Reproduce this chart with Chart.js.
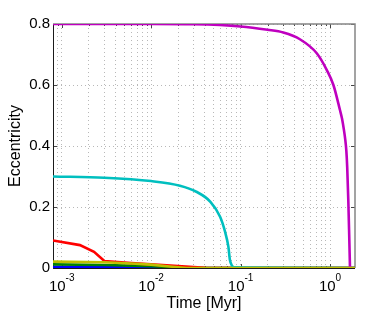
<!DOCTYPE html>
<html>
<head>
<meta charset="utf-8">
<script src="https://cdn.jsdelivr.net/npm/chart.js@4.4.0/dist/chart.umd.min.js"></script>
<style>
  html, body { margin: 0; padding: 0; background: #fff; }
  canvas { display: block; }
</style>
</head>
<body>
<canvas id="chartEcc" width="392" height="318"></canvas>
<script>
// ------------------------------------------------
// values: time [Myr] / eccentricity
// ------------------------------------------------
const blueT = [0.0008, 0.003, 0.01, 0.02, 1.9];
const blueE = [0.004, 0.003, 0.001, 0, 0];

const greenT = [0.0008, 0.003, 0.01, 0.02, 0.03, 1.9];
const greenE = [0.012, 0.010, 0.006, 0.002, 0, 0];

const redT = [0.0008, 0.0016, 0.0023, 0.003, 0.006, 0.01, 0.02, 0.04, 1.9];
const redE = [0.090, 0.075, 0.053, 0.023, 0.016, 0.012, 0.006, 0.001, 0];

const cyanT = [0.0008, 0.003, 0.01, 0.021, 0.032, 0.046, 0.059, 0.067, 0.073, 0.076, 0.080, 0.087, 1.9];
const cyanE = [0.300, 0.296, 0.285, 0.270, 0.250, 0.217, 0.168, 0.119, 0.070, 0.026, 0.008, 0.002, 0];

const magentaT = [0.0008, 0.01, 0.03, 0.1, 0.2, 0.3, 0.46, 0.71, 0.92, 1.09, 1.29, 1.36, 1.43, 1.48, 1.52, 1.555, 1.6, 1.636, 1.67];
const magentaE = [0.800, 0.800, 0.799, 0.792, 0.781, 0.772, 0.750, 0.704, 0.649, 0.600, 0.518, 0.490, 0.452, 0.420, 0.385, 0.330, 0.220, 0.110, 0];

const yellowT = [0.0008, 0.003, 0.006, 0.01, 0.016, 0.025, 1.9];
const yellowE = [0.021, 0.019, 0.015, 0.011, 0.005, 0, 0];

// axes
const xMin = 0.0008, xMax = 1.9;
const xTickValues = [0.001, 0.01, 0.1, 1];
const xTickExps = ["-3", "-2", "-1", "0"];
const yTickValues = [0, 0.2, 0.4, 0.6, 0.8];

const FONT = '"Liberation Sans", Arial, Helvetica, sans-serif';

// log grid positions (1..9 x each decade inside the range)
const xGrid = [];
[0.0001, 0.001, 0.01, 0.1, 1].forEach(d => {
  for (let k = 1; k < 10; k++) {
    const v = +(k * d).toPrecision(3);
    if (v >= xMin && v <= xMax) xGrid.push(v);
  }
});

const pts = (ts, es) => ts.map((t, i) => ({ x: t, y: es[i] }));

function series(label, ts, es, color, order, smooth) {
  return {
    label,
    data: pts(ts, es),
    borderColor: color,
    backgroundColor: color,
    borderWidth: 2.6,
    pointRadius: 0,
    fill: false,
    order,
    cubicInterpolationMode: smooth ? "monotone" : "default",
    tension: 0
  };
}

// ------------------------------------------------
// box, inner tick marks, x labels with exponents, titles
// ------------------------------------------------
const frame = {
  id: "frame",
  beforeDatasetsDraw(chart) {
    const { ctx, chartArea: a, scales: { x, y } } = chart;
    ctx.save();
    ctx.strokeStyle = "#444";
    ctx.lineWidth = 1;
    ctx.beginPath();
    xGrid.forEach(v => {
      const px = Math.round(x.getPixelForValue(v)) + 0.5;
      const len = xTickValues.includes(v) ? 4 : 2;
      ctx.moveTo(px, a.bottom); ctx.lineTo(px, a.bottom - len);
      ctx.moveTo(px, a.top); ctx.lineTo(px, a.top + len);
    });
    yTickValues.forEach(v => {
      const py = Math.round(y.getPixelForValue(v)) + 0.5;
      ctx.moveTo(a.left, py); ctx.lineTo(a.left + 4, py);
      ctx.moveTo(a.right, py); ctx.lineTo(a.right - 4, py);
    });
    ctx.stroke();

    ctx.strokeStyle = "#858585";
    ctx.lineWidth = 1.5;
    ctx.beginPath();
    ctx.moveTo(a.left, a.top);
    ctx.lineTo(a.right, a.top);
    ctx.lineTo(a.right, a.bottom);
    ctx.stroke();

    ctx.strokeStyle = "#1a1a1a";
    ctx.lineWidth = 1;
    ctx.beginPath();
    ctx.moveTo(a.left + 0.5, a.top);
    ctx.lineTo(a.left + 0.5, a.bottom + 0.5);
    ctx.lineTo(a.right, a.bottom + 0.5);
    ctx.stroke();
    ctx.restore();
  },
  afterDraw(chart) {
    const { ctx, chartArea: a, scales: { x } } = chart;
    ctx.save();
    ctx.fillStyle = "#000";
    ctx.textBaseline = "alphabetic";
    ctx.textAlign = "left";
    xTickValues.forEach((v, i) => {
      const px = x.getPixelForValue(v);
      ctx.font = "15px " + FONT;
      const wBase = ctx.measureText("10").width;
      ctx.font = "10px " + FONT;
      const wExp = ctx.measureText(xTickExps[i]).width;
      const x0 = px - (wBase + wExp) / 2;
      ctx.font = "15px " + FONT;
      ctx.fillText("10", x0, 290.5);
      ctx.font = "10px " + FONT;
      ctx.fillText(xTickExps[i], x0 + wBase, 281);
    });

    ctx.font = "16px " + FONT;
    ctx.textAlign = "center";
    ctx.fillText("Time [Myr]", (a.left + a.right) / 2, 307.5);

    ctx.translate(16, (a.top + a.bottom) / 2);
    ctx.rotate(-Math.PI / 2);
    ctx.textBaseline = "middle";
    ctx.fillText("Eccentricity", 0, 0);
    ctx.restore();
  }
};

new Chart(document.getElementById("chartEcc"), {
  type: "line",
  data: {
    datasets: [
      series("blue", blueT, blueE, "#0000ff", 5, false),
      series("green", greenT, greenE, "#008000", 4, false),
      series("red", redT, redE, "#ff0000", 3, false),
      series("cyan", cyanT, cyanE, "#00bfbf", 2, true),
      series("magenta", magentaT, magentaE, "#bf00bf", 1, true),
      series("yellow", yellowT, yellowE, "#bfbf00", 0, false)
    ]
  },
  options: {
    responsive: false,
    devicePixelRatio: 1,
    animation: false,
    events: [],
    layout: { padding: { left: 0, top: 24, right: 37, bottom: 0 } },
    plugins: { legend: { display: false }, tooltip: { enabled: false } },
    scales: {
      x: {
        type: "logarithmic",
        min: xMin,
        max: xMax,
        afterBuildTicks: s => { s.ticks = xGrid.map(v => ({ value: v })); },
        afterFit: s => { s.height = 50; },
        ticks: { display: false },
        grid: { color: "#b8b8b8", lineWidth: 1, drawTicks: false },
        border: { display: false, dash: [1, 3] }
      },
      y: {
        min: 0,
        max: 0.8,
        afterBuildTicks: s => { s.ticks = yTickValues.map(v => ({ value: v })); },
        afterFit: s => { s.width = 53; },
        ticks: {
          padding: 3,
          color: "#000",
          font: { family: FONT, size: 15 },
          callback: v => String(+v.toFixed(1))
        },
        grid: { color: "#b8b8b8", lineWidth: 1, drawTicks: false },
        border: { display: false, dash: [1, 3] }
      }
    }
  },
  plugins: [frame]
});
</script>
</body>
</html>
